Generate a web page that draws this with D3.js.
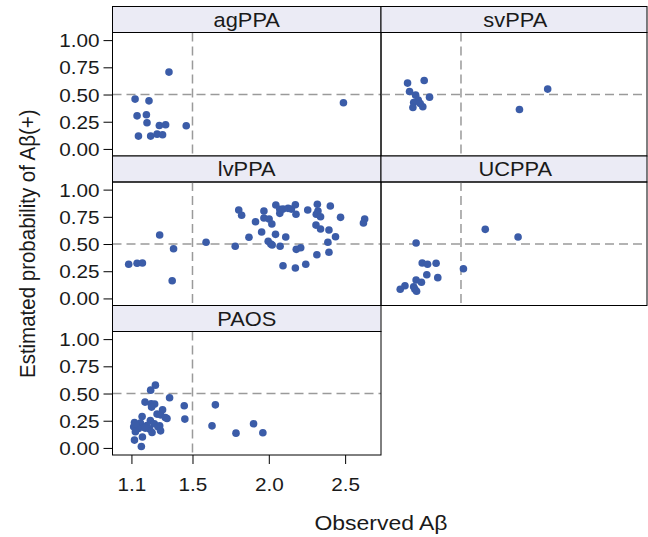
<!DOCTYPE html>
<html>
<head>
<meta charset="utf-8">
<script src="https://cdn.jsdelivr.net/npm/d3@7"></script>
<style>
  html, body { margin: 0; padding: 0; background: #ffffff; }
  svg { display: block; font-family: "Liberation Sans", Arial, Helvetica, sans-serif; }
</style>
</head>
<body>
<svg id="chart" width="648" height="537"></svg>
<script>
// Panel order and grid placement (row, column)
const panelNames = ["agPPA", "svPPA", "lvPPA", "UCPPA", "PAOS"];
const panelRows = [0, 0, 1, 1, 2];
const panelCols = [0, 1, 0, 1, 0];

// Observed Aβ vs. estimated probability of Aβ(+), one list of [x, y] per group
const agPPA = [
  [1.346, 0.706], [1.124, 0.458], [1.215, 0.442], [1.137, 0.304], [1.198, 0.314],
  [1.202, 0.240], [1.283, 0.215], [1.324, 0.222], [1.459, 0.213], [1.146, 0.118],
  [1.226, 0.118], [1.268, 0.136], [1.304, 0.130], [2.489, 0.424]
];
const svPPA = [
  [1.150, 0.605], [1.259, 0.629], [1.163, 0.528], [1.203, 0.494], [1.294, 0.476],
  [1.220, 0.449], [1.190, 0.427], [1.185, 0.381], [1.250, 0.387], [1.233, 0.417],
  [2.068, 0.550], [1.883, 0.362]
];
const lvPPA = [
  [1.082, 0.314], [1.137, 0.323], [1.172, 0.326], [1.285, 0.583], [1.376, 0.457],
  [1.367, 0.163], [1.589, 0.516], [1.780, 0.479], [1.803, 0.812], [1.822, 0.764],
  [1.870, 0.562], [1.913, 0.705], [1.953, 0.610], [1.968, 0.803], [1.968, 0.739],
  [2.002, 0.730], [2.020, 0.684], [2.046, 0.858], [2.044, 0.589], [1.996, 0.525],
  [2.013, 0.500], [2.022, 0.491], [2.072, 0.819], [2.072, 0.782], [2.093, 0.821],
  [2.126, 0.828], [2.148, 0.821], [2.174, 0.861], [2.178, 0.773], [2.111, 0.564],
  [2.074, 0.479], [2.093, 0.301], [2.174, 0.280], [2.180, 0.451], [2.209, 0.466],
  [2.242, 0.314], [2.255, 0.812], [2.318, 0.865], [2.322, 0.803], [2.311, 0.773],
  [2.339, 0.751], [2.309, 0.674], [2.339, 0.638], [2.394, 0.629], [2.403, 0.849],
  [2.470, 0.745], [2.437, 0.567], [2.387, 0.516], [2.394, 0.424], [2.315, 0.402],
  [2.628, 0.730], [2.620, 0.693]
];
const UCPPA = [
  [1.206, 0.509], [1.659, 0.635], [1.874, 0.564], [1.246, 0.326], [1.281, 0.314],
  [1.337, 0.323], [1.516, 0.273], [1.276, 0.218], [1.348, 0.191], [1.206, 0.169],
  [1.241, 0.148], [1.133, 0.117], [1.102, 0.084], [1.190, 0.108], [1.198, 0.084],
  [1.209, 0.066]
];
const PAOS = [
  [1.257, 0.577], [1.226, 0.531], [1.350, 0.461], [1.189, 0.421], [1.229, 0.405],
  [1.252, 0.403], [1.232, 0.375], [1.446, 0.387], [1.650, 0.396], [1.304, 0.350],
  [1.268, 0.311], [1.291, 0.304], [1.170, 0.289], [1.333, 0.270], [1.450, 0.265],
  [1.120, 0.234], [1.159, 0.228], [1.224, 0.252], [1.250, 0.222], [1.285, 0.203],
  [1.202, 0.206], [1.115, 0.194], [1.146, 0.179], [1.185, 0.188], [1.219, 0.173],
  [1.235, 0.142], [1.126, 0.148], [1.628, 0.203], [1.900, 0.222], [1.785, 0.136],
  [1.961, 0.139], [1.172, 0.100], [1.120, 0.072], [1.165, 0.013], [1.322, 0.280],
  [1.274, 0.194], [1.291, 0.157], [1.191, 0.182], [1.126, 0.219]
];
const panelData = { agPPA, svPPA, lvPPA, UCPPA, PAOS };

// Axis ticks and reference lines
const xTicks = [1.1, 1.5, 2.0, 2.5];
const xTickLabels = ["1.1", "1.5", "2.0", "2.5"];
const yTicks = [0, 0.25, 0.5, 0.75, 1];
const yTickLabels = ["0.00", "0.25", "0.50", "0.75", "1.00"];
const xCutoff = 1.5;
const yCutoff = 0.5;

// Layout
const svgW = 648, svgH = 537;
const left0 = 112.5, panelW = 268.5;
const top0 = 6.5, rowH = 149.5, stripH = 26;
const plotH = rowH - stripH;
const widen = 1.12; // horizontal stretch applied to horizontal labels

const pointColor = "#3b5ca8";
const refColor = "#9a9a9a";
const stripFill = "#ebebf5";
const textColor = "#1a1a1a";

const svg = d3.select("#chart");

const xScale = d3.scaleLinear().domain([0.976, 2.735]).range([0, panelW]);
const yScale = d3.scaleLinear().domain([-0.065, 1.07]).range([plotH, 0]);

// place a horizontal label at (x, y) with a slight horizontal stretch
function wideText(sel, x, y) {
  return sel.attr("x", 0).attr("y", 0)
    .attr("transform", `translate(${x},${y}) scale(${widen},1)`);
}

panelNames.forEach((name, i) => {
  const r = panelRows[i], c = panelCols[i];
  const px = left0 + c * panelW;
  const py = top0 + r * rowH;
  const w = Math.min(panelW, svgW - 1 - px);

  const g = svg.append("g").attr("transform", `translate(${px},${py})`);

  // strip
  g.append("rect")
    .attr("x", 0).attr("y", 0).attr("width", w).attr("height", stripH)
    .attr("fill", stripFill).attr("stroke", "#000").attr("stroke-width", 1);
  g.append("text")
    .call(wideText, panelW / 2, stripH / 2 + 7)
    .attr("text-anchor", "middle")
    .attr("font-size", 19.5).attr("fill", textColor)
    .text(name);

  const plot = g.append("g").attr("transform", `translate(0,${stripH})`);

  // reference lines
  plot.append("line")
    .attr("x1", xScale(xCutoff)).attr("x2", xScale(xCutoff))
    .attr("y1", 0).attr("y2", plotH)
    .attr("stroke", refColor).attr("stroke-width", 1.5).attr("stroke-dasharray", "9,5");
  plot.append("line")
    .attr("x1", 0).attr("x2", w)
    .attr("y1", yScale(yCutoff)).attr("y2", yScale(yCutoff))
    .attr("stroke", refColor).attr("stroke-width", 1.5).attr("stroke-dasharray", "9,5");

  // points
  plot.selectAll("circle")
    .data(panelData[name])
    .join("circle")
    .attr("cx", d => xScale(d[0]))
    .attr("cy", d => yScale(d[1]))
    .attr("r", 3.8)
    .attr("fill", pointColor);

  // panel border
  plot.append("rect")
    .attr("x", 0).attr("y", 0).attr("width", w).attr("height", plotH)
    .attr("fill", "none").attr("stroke", "#000").attr("stroke-width", 1);

  // y axis on the left column
  if (c === 0) {
    const ya = d3.axisLeft(yScale)
      .tickValues(yTicks)
      .tickFormat((d, k) => yTickLabels[k])
      .tickSize(9).tickPadding(4);
    const ag = plot.append("g").call(ya);
    ag.select(".domain").remove();
    ag.selectAll("line").attr("stroke", "#000");
    ag.selectAll("text")
      .attr("font-size", 18.5).attr("fill", textColor)
      .attr("font-family", "'Liberation Sans', Arial, sans-serif")
      .attr("dy", null)
      .call(wideText, -13, 6.5);
  }

  // x axis under the bottom panel
  if (name === "PAOS") {
    const xa = d3.axisBottom(xScale)
      .tickValues(xTicks)
      .tickFormat((d, k) => xTickLabels[k])
      .tickSize(9).tickPadding(8);
    const ag = plot.append("g").attr("transform", `translate(0,${plotH})`).call(xa);
    ag.select(".domain").remove();
    ag.selectAll("line").attr("stroke", "#000");
    ag.selectAll("text")
      .attr("font-size", 18.5).attr("fill", textColor)
      .attr("font-family", "'Liberation Sans', Arial, sans-serif")
      .attr("dy", null)
      .call(wideText, 0, 36);
  }
});

// axis titles
svg.append("text")
  .call(wideText, left0 + panelW, 530)
  .attr("text-anchor", "middle")
  .attr("font-size", 20.5).attr("fill", textColor)
  .text("Observed Aβ");

svg.append("text")
  .attr("transform", `translate(35,${top0 + stripH + (3 * rowH - stripH) / 2}) rotate(-90) scale(1,${widen})`)
  .attr("text-anchor", "middle")
  .attr("font-size", 20.5).attr("fill", textColor)
  .text("Estimated probability of Aβ(+)");
</script>
</body>
</html>
